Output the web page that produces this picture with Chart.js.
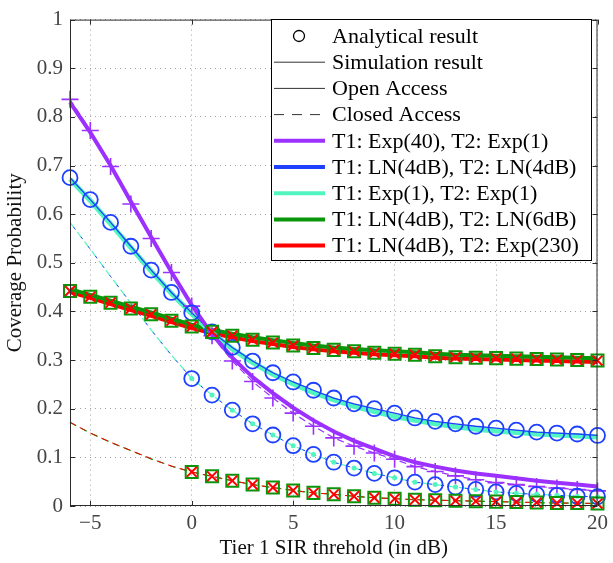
<!DOCTYPE html>
<html>
<head>
<meta charset="utf-8">
<title>Coverage Probability</title>
<script src="https://cdn.jsdelivr.net/npm/chart.js@4.4.0/dist/chart.umd.min.js"></script>
<style>
  html, body { margin: 0; padding: 0; background: #fff; }
</style>
</head>
<body>
<canvas id="myChart" width="613" height="563"></canvas>
<script>
// SIR thresholds (dB)
var xAll = [-6, -5, -4, -3, -2, -1, 0, 1, 2, 3, 4, 5, 6, 7, 8, 9, 10, 11, 12, 13, 14, 15, 16, 17, 18, 19, 20];
var xClosed = [0, 1, 2, 3, 4, 5, 6, 7, 8, 9, 10, 11, 12, 13, 14, 15, 16, 17, 18, 19, 20];

// tick labels
var xTicks = [-5, 0, 5, 10, 15, 20];
var yTicks = [0, 0.1, 0.2, 0.3, 0.4, 0.5, 0.6, 0.7, 0.8, 0.9, 1];

// T1: Exp(40), T2: Exp(1)
var purpleOpen = [0.830, 0.768, 0.700, 0.626, 0.553, 0.481, 0.413, 0.353, 0.305, 0.265, 0.232, 0.202, 0.176, 0.153, 0.134, 0.118, 0.102, 0.090, 0.081, 0.073, 0.067, 0.062, 0.057, 0.052, 0.048, 0.044, 0.040];
var purpleClosed = [0.836, 0.772, 0.698, 0.621, 0.550, 0.480, 0.411, 0.350, 0.298, 0.256, 0.222, 0.191, 0.164, 0.140, 0.123, 0.109, 0.096, 0.081, 0.071, 0.062, 0.054, 0.048, 0.044, 0.040, 0.037, 0.034, 0.031];

// T1: LN(4dB), T2: LN(4dB)  and  T1: Exp(1), T2: Exp(1)
var blueOpen = [0.675, 0.630, 0.583, 0.534, 0.485, 0.439, 0.397, 0.358, 0.326, 0.298, 0.274, 0.255, 0.238, 0.222, 0.210, 0.200, 0.191, 0.181, 0.174, 0.169, 0.164, 0.160, 0.156, 0.152, 0.150, 0.148, 0.145];
var aquaOpen = [0.672, 0.628, 0.580, 0.531, 0.483, 0.437, 0.395, 0.356, 0.323, 0.295, 0.271, 0.251, 0.233, 0.218, 0.205, 0.194, 0.184, 0.176, 0.169, 0.163, 0.158, 0.154, 0.151, 0.148, 0.146, 0.144, 0.142];
var aquaClosed = [0.583, 0.528, 0.472, 0.417, 0.362, 0.310, 0.262, 0.228, 0.197, 0.169, 0.146, 0.124, 0.106, 0.090, 0.078, 0.067, 0.058, 0.049, 0.044, 0.039, 0.034, 0.029, 0.026, 0.024, 0.022, 0.020, 0.019];

// T1: LN(4dB), T2: LN(6dB)  and  T1: LN(4dB), T2: Exp(230)
var gridOpen = [0.442, 0.430, 0.418, 0.406, 0.394, 0.381, 0.369, 0.358, 0.350, 0.342, 0.336, 0.330, 0.325, 0.321, 0.318, 0.315, 0.313, 0.311, 0.308, 0.306, 0.305, 0.304, 0.303, 0.302, 0.301, 0.300, 0.299];
var greenOpen = [0.446, 0.434, 0.422, 0.410, 0.398, 0.385, 0.373, 0.362, 0.354, 0.347, 0.341, 0.335, 0.330, 0.326, 0.323, 0.320, 0.318, 0.316, 0.313, 0.311, 0.310, 0.309, 0.308, 0.307, 0.306, 0.305, 0.304];
var redOpen = [0.440, 0.428, 0.415, 0.403, 0.391, 0.378, 0.366, 0.355, 0.347, 0.339, 0.333, 0.327, 0.322, 0.318, 0.315, 0.312, 0.310, 0.308, 0.305, 0.303, 0.302, 0.301, 0.300, 0.299, 0.298, 0.297, 0.296];
var gridClosed = [0.172, 0.150, 0.131, 0.114, 0.097, 0.082, 0.070, 0.061, 0.052, 0.044, 0.038, 0.032, 0.027, 0.024, 0.020, 0.017, 0.015, 0.013, 0.012, 0.011, 0.010, 0.009, 0.008, 0.007, 0.006, 0.006, 0.005];

var legendLabels = ['Analytical result', 'Simulation result', 'Open Access', 'Closed Access',
  'T1: Exp(40), T2: Exp(1)', 'T1: LN(4dB), T2: LN(4dB)', 'T1: Exp(1), T2: Exp(1)',
  'T1: LN(4dB), T2: LN(6dB)', 'T1: LN(4dB), T2: Exp(230)'];

var PURPLE = '#9b30ff', BLUE = '#1e40ff', AQUA = '#50f5bf', GREEN = '#0a960a', RED = '#ff0000';
var FONT = "'Liberation Serif', 'Times New Roman', serif";

function pts(xs, ys) {
  var out = [];
  for (let i = 0; i < xs.length; i++) out.push({x: xs[i], y: ys[i]});
  return out;
}

// closed access markers only from 0 dB on
function tail(ys) { return ys.slice(xAll.indexOf(0)); }

function line(data, color, width, dash, extra) {
  var ds = {
    data: data, borderColor: color, borderWidth: width, borderDash: dash || [],
    pointRadius: 0, tension: 0, fill: false, clip: false
  };
  for (var k in extra) ds[k] = extra[k];
  return ds;
}

function marks(data, color, style, radius, width, fillColor) {
  return {
    data: data, showLine: false, clip: false,
    pointStyle: style, pointRadius: radius, pointBorderWidth: width,
    pointBorderColor: color, pointBackgroundColor: fillColor || 'rgba(0,0,0,0)',
    borderColor: color, backgroundColor: fillColor || 'rgba(0,0,0,0)'
  };
}

// listed bottom to top
var layers = [
  line(pts(xAll, aquaClosed), AQUA, 1.2, [7, 5]),
  line(pts(xAll, aquaClosed), BLUE, 1, [3, 9], {borderDashOffset: -6}),
  line(pts(xAll, gridClosed), GREEN, 1.2, [7, 5]),
  line(pts(xAll, gridClosed), RED, 1, [7, 5], {borderDashOffset: 1}),
  line(pts(xAll, redOpen), RED, 4),
  line(pts(xAll, greenOpen), GREEN, 4),
  line(pts(xAll, aquaOpen), AQUA, 5),
  line(pts(xAll, blueOpen), BLUE, 1.3),
  line(pts(xAll, purpleClosed), PURPLE, 1.2, [7, 4]),
  line(pts(xAll, purpleOpen), PURPLE, 4),
  marks(pts(xAll, purpleClosed), PURPLE, 'cross', 8.5, 1.6),
  marks(pts(xClosed, tail(aquaClosed)), AQUA, 'circle', 2.5, 0, AQUA),
  marks(pts(xAll, blueOpen), BLUE, 'circle', 7.5, 1.8),
  marks(pts(xClosed, tail(aquaClosed)), BLUE, 'circle', 7.5, 1.8),
  marks(pts(xAll, gridOpen), GREEN, 'rect', 8.5, 2),
  marks(pts(xClosed, tail(gridClosed)), GREEN, 'rect', 8.5, 2),
  marks(pts(xAll, gridOpen), RED, 'crossRot', 7, 2),
  marks(pts(xClosed, tail(gridClosed)), RED, 'crossRot', 7, 2)
];
for (let i = 0; i < layers.length; i++) layers[i].order = layers.length - i;

// MATLAB style box with inward ticks
var boxPlugin = {
  id: 'box',
  afterDraw: function(chart) {
    var ctx = chart.ctx, a = chart.chartArea;
    var xs = chart.scales.x, ys = chart.scales.y;
    ctx.save();
    ctx.strokeStyle = '#2b2b2b';
    ctx.lineWidth = 1;
    ctx.strokeRect(a.left + 0.5, a.top + 0.5, a.right - a.left - 1, a.bottom - a.top - 1);
    ctx.beginPath();
    xTicks.forEach(function(v) {
      var px = Math.round(xs.getPixelForValue(v)) + 0.5;
      ctx.moveTo(px, a.bottom); ctx.lineTo(px, a.bottom - 5);
      ctx.moveTo(px, a.top); ctx.lineTo(px, a.top + 5);
    });
    yTicks.forEach(function(v) {
      var py = Math.round(ys.getPixelForValue(v)) + 0.5;
      ctx.moveTo(a.left, py); ctx.lineTo(a.left + 5, py);
      ctx.moveTo(a.right, py); ctx.lineTo(a.right - 5, py);
    });
    ctx.stroke();

    // legend
    var L = 271, T = 19, R = 592, B = 261;
    ctx.fillStyle = '#fff';
    ctx.fillRect(L, T, R - L, B - T);
    ctx.strokeStyle = '#000';
    ctx.strokeRect(L + 0.5, T + 0.5, R - L - 1, B - T - 1);
    var styles = [
      {kind: 'circle'},
      {color: '#333', width: 1},
      {color: '#333', width: 1},
      {color: '#333', width: 1, dash: [10, 8]},
      {color: PURPLE, width: 4},
      {color: BLUE, width: 4},
      {color: AQUA, width: 4},
      {color: GREEN, width: 4},
      {color: RED, width: 4}
    ];
    ctx.font = '22px ' + FONT;
    ctx.textBaseline = 'middle';
    ctx.textAlign = 'left';
    for (let i = 0; i < legendLabels.length; i++) {
      var y = 36 + i * 26.2, s = styles[i];
      if (s.kind === 'circle') {
        ctx.beginPath();
        ctx.lineWidth = 1.3;
        ctx.strokeStyle = '#000';
        ctx.arc(299, y, 5.5, 0, Math.PI * 2);
        ctx.stroke();
      } else {
        ctx.beginPath();
        ctx.setLineDash(s.dash || []);
        ctx.lineWidth = s.width;
        ctx.strokeStyle = s.color;
        ctx.moveTo(274, y); ctx.lineTo(325, y);
        ctx.stroke();
        ctx.setLineDash([]);
      }
      ctx.fillStyle = '#000';
      ctx.fillText(legendLabels[i], 332, y + 1);
    }
    ctx.restore();
  }
};

var ctx = document.getElementById('myChart').getContext('2d');
var myChart = new Chart(ctx, {
  type: 'line',
  data: { datasets: layers },
  plugins: [boxPlugin],
  options: {
    responsive: false,
    animation: false,
    layout: { padding: { top: 13, right: 11, left: 0, bottom: 0 } },
    plugins: { legend: { display: false }, tooltip: { enabled: false } },
    scales: {
      x: {
        type: 'linear', min: -6, max: 20,
        afterBuildTicks: function(scale) { scale.ticks = xTicks.map(function(v) { return {value: v}; }); },
        afterFit: function(scale) { scale.height = 57; },
        ticks: {
          padding: 5, color: '#444', font: { family: FONT, size: 21 },
          callback: function(v) { return String(v).replace('-', '\u2212'); }
        },
        grid: { color: '#a0a0a0', drawTicks: false },
        border: { display: false, dash: [1, 4] },
        title: {
          display: true, text: 'Tier 1 SIR threhold (in dB)', color: '#111',
          font: { family: FONT, size: 21 }, padding: { top: 0, bottom: 2 }
        }
      },
      y: {
        type: 'linear', min: 0, max: 1,
        afterBuildTicks: function(scale) { scale.ticks = yTicks.map(function(v) { return {value: v}; }); },
        afterFit: function(scale) { scale.width = 70; },
        ticks: {
          padding: 7, color: '#444', font: { family: FONT, size: 21 },
          callback: function(v) { return String(v); }
        },
        grid: { color: '#a0a0a0', drawTicks: false },
        border: { display: false, dash: [1, 4] },
        title: {
          display: true, text: 'Coverage Probability', color: '#111',
          font: { family: FONT, size: 21 }, padding: { top: 3, bottom: 0 }
        }
      }
    }
  }
});
</script>
</body>
</html>
